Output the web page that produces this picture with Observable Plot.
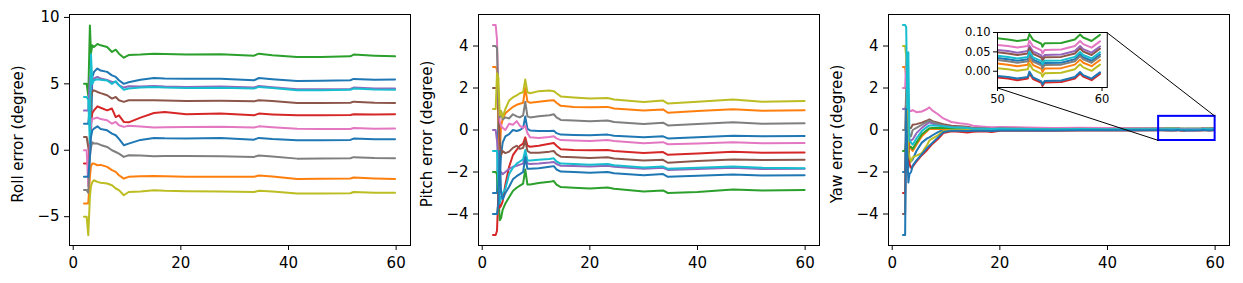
<!DOCTYPE html>
<html><head><meta charset="utf-8">
<script src="https://cdn.jsdelivr.net/npm/d3@7"></script>
<script src="https://cdn.jsdelivr.net/npm/@observablehq/plot@0.6"></script>
<style>
body{margin:0;background:#fff;}
#fig{position:relative;width:1243px;height:283px;overflow:hidden;font-family:"DejaVu Sans",sans-serif;}
#fig svg{position:absolute;top:0;}
</style></head><body><div id="fig"></div>
<script>
// ---------- DATA ----------
const xTicks = [0, 20, 40, 60];
const rollTicks = [-5, 0, 5, 10];
const angleTicks = [-4, -2, 0, 2, 4];
const insetXTicks = [50, 60];
const insetYTicks = [0, 0.05, 0.1];

// Roll
const xRoll = [2.0, 2.5, 2.8, 3.1, 3.3, 3.55, 3.85, 4.5, 5.1, 6.3, 7.2, 7.9, 8.5, 9.4, 10.3, 12.5, 15, 17, 21, 27.4, 33.6, 34.5, 37, 41.6, 46, 51.5, 52.1, 56, 59.8];
const rollBlueA = [2, 2, 2.0, 3.5, 1.0, 5.5, 5.9, 6.15, 6.0, 5.9, 5.64, 5.52, 5.27, 5.0, 5.12, 5.3, 5.44, 5.4, 5.39, 5.39, 5.27, 5.44, 5.35, 5.22, 5.24, 5.27, 5.37, 5.3, 5.32];
const rollOrange = [-4, -4, -4.0, -2.0, -1.2, -1.0, -1.0, -1.13, -1.1, -1.25, -1.5, -1.63, -1.88, -2.13, -2.0, -1.95, -1.93, -1.95, -2.0, -2.0, -2.0, -1.9, -1.98, -2.16, -2.15, -2.12, -2.05, -2.12, -2.16];
const rollGreen = [5, 5, 4.1, 9.4, 7.3, 7.9, 7.77, 8.0, 7.9, 7.77, 7.4, 7.57, 7.27, 6.97, 7.17, 7.2, 7.27, 7.25, 7.2, 7.22, 7.12, 7.27, 7.15, 7.02, 7.02, 7.07, 7.2, 7.12, 7.07];
const rollRed = [-1, -1, -1.0, 1.0, 2.0, 2.8, 3.0, 3.31, 3.2, 3.0, 3.14, 2.5, 2.63, 2.13, 2.1, 2.46, 2.81, 2.88, 2.71, 2.76, 2.63, 2.76, 2.7, 2.63, 2.63, 2.66, 2.71, 2.7, 2.71];
const rollPurple = [3, 3, 3.0, 5.5, 4.5, 5.3, 5.4, 5.52, 5.4, 5.3, 5.14, 5.14, 4.9, 4.72, 4.82, 4.8, 4.84, 4.8, 4.77, 4.8, 4.72, 4.84, 4.75, 4.59, 4.6, 4.62, 4.72, 4.65, 4.64];
const rollBrown = [1, 1, 0.2, -0.5, 4.0, 4.4, 4.51, 4.39, 4.3, 4.14, 3.89, 4.01, 3.76, 3.64, 3.76, 3.76, 3.76, 3.74, 3.71, 3.72, 3.68, 3.76, 3.7, 3.56, 3.56, 3.58, 3.66, 3.58, 3.56];
const rollPink = [0, 0, -2.7, 0.5, 2.0, 2.4, 2.38, 2.46, 2.35, 2.26, 2.0, 2.13, 1.88, 1.76, 1.85, 1.78, 1.72, 1.74, 1.76, 1.77, 1.71, 1.8, 1.74, 1.61, 1.6, 1.6, 1.68, 1.62, 1.63];
const rollGray = [-3, -3, -3.2, -0.5, 0.2, 0.6, 0.5, 0.5, 0.4, 0.25, 0.0, -0.13, -0.25, -0.5, -0.38, -0.4, -0.45, -0.44, -0.43, -0.45, -0.5, -0.4, -0.47, -0.63, -0.62, -0.6, -0.52, -0.58, -0.6];
const rollOlive = [-5, -5, -6.4, -3.5, -2.7, -2.4, -2.26, -2.38, -2.45, -2.5, -2.63, -2.88, -3.0, -3.39, -3.14, -3.1, -3.01, -3.05, -3.09, -3.1, -3.14, -3.05, -3.1, -3.26, -3.25, -3.24, -3.14, -3.2, -3.19];
const rollCyan = [4, 4, 3.8, 0.5, 7.2, 5.0, 5.27, 5.35, 5.3, 5.25, 5.0, 5.2, 4.9, 4.56, 4.65, 4.72, 4.77, 4.72, 4.69, 4.7, 4.64, 4.77, 4.68, 4.51, 4.52, 4.55, 4.64, 4.57, 4.56];
const rollBlueB = [-2, -2, -2.0, -0.5, 1.0, 1.5, 1.63, 1.8, 1.6, 1.5, 1.25, 1.13, 0.85, 0.38, 0.5, 0.78, 0.93, 0.9, 0.88, 0.93, 0.8, 0.93, 0.85, 0.75, 0.76, 0.78, 0.88, 0.82, 0.83];

// Pitch
const xPitch = [2.0, 2.5, 2.75, 3.0, 3.25, 3.5, 3.8, 4.3, 5.0, 5.7, 6.4, 7.0, 7.6, 8.0, 8.4, 8.9, 10.5, 12.5, 13.3, 13.8, 14.6, 17, 20, 23.3, 24.5, 30, 33.6, 34.5, 40, 46.6, 52, 59.9];
const pitchBlueA = [-3, -3, -3, 0.7, -2.2, -1.2, -0.6, -0.3, -0.2, 0.0, -0.05, 0.0, 0.1, 0.64, 0.05, -0.02, -0.05, -0.05, -0.03, -0.15, -0.22, -0.24, -0.25, -0.22, -0.27, -0.35, -0.3, -0.4, -0.34, -0.27, -0.3, -0.29];
const pitchOrange = [3, 3, 2.9, 0.5, -1.2, 0.2, 0.5, 0.8, 0.95, 1.1, 1.2, 1.25, 1.3, 2.0, 1.35, 1.3, 1.35, 1.4, 1.42, 1.3, 1.15, 1.1, 1.08, 1.1, 1.02, 0.93, 0.98, 0.82, 0.9, 0.99, 0.92, 0.94];
const pitchGreen = [-2, -2, -2.1, -3.0, -4.3, -4.2, -3.8, -3.5, -3.2, -2.9, -2.75, -2.65, -2.55, -1.88, -2.6, -2.6, -2.52, -2.47, -2.43, -2.6, -2.72, -2.75, -2.78, -2.74, -2.8, -2.93, -2.88, -3.0, -2.95, -2.83, -2.88, -2.86];
const pitchRed = [-5, -5, -4.8, -3.0, -3.7, -3.6, -3.4, -2.6, -1.75, -1.2, -0.95, -0.75, -0.65, -0.35, -0.75, -0.8, -0.75, -0.65, -0.62, -0.75, -0.92, -0.95, -0.97, -0.95, -1.0, -1.1, -1.05, -1.18, -1.12, -1.03, -1.08, -1.07];
const pitchPurple = [0, 0, -0.5, -1.5, -2.2, -2.0, -2.1, -2.0, -1.85, -1.75, -1.7, -1.65, -1.6, -1.15, -1.6, -1.62, -1.6, -1.55, -1.52, -1.62, -1.7, -1.72, -1.74, -1.7, -1.75, -1.85, -1.8, -1.9, -1.86, -1.8, -1.86, -1.85];
const pitchBrown = [2, 2, 2.0, 1.0, -0.5, -1.2, -1.0, -1.1, -1.03, -0.85, -0.75, -0.9, -0.85, -0.5, -1.0, -1.08, -1.08, -1.03, -1.0, -1.15, -1.27, -1.3, -1.33, -1.3, -1.36, -1.45, -1.42, -1.56, -1.48, -1.4, -1.43, -1.42];
const pitchPink = [5, 5, 4.3, 1.5, 0.4, 0.2, 0.1, 0.0, 0.3, 0.25, 0.42, 0.2, 0.1, 0.2, -0.15, -0.35, -0.38, -0.33, -0.3, -0.4, -0.48, -0.5, -0.52, -0.48, -0.52, -0.63, -0.58, -0.68, -0.64, -0.58, -0.63, -0.62];
const pitchGray = [4, 4, 3.9, 1.5, 0.6, 0.9, 0.5, 0.6, 0.55, 0.75, 0.65, 0.6, 0.7, 1.35, 0.65, 0.6, 0.65, 0.7, 0.75, 0.6, 0.48, 0.45, 0.42, 0.45, 0.38, 0.28, 0.35, 0.22, 0.28, 0.37, 0.3, 0.32];
const pitchOlive = [1, 1, 2.7, 2.5, 0.7, 0.9, 0.6, 1.0, 1.4, 1.55, 1.65, 1.75, 1.8, 2.4, 1.8, 1.75, 1.85, 1.88, 1.85, 1.75, 1.6, 1.55, 1.5, 1.52, 1.45, 1.33, 1.4, 1.26, 1.35, 1.45, 1.35, 1.38];
const pitchCyan = [-1, -1, -1.0, -2.5, -3.5, -3.2, -3.0, -2.8, -2.1, -1.8, -1.6, -1.5, -1.4, -0.95, -1.45, -1.45, -1.42, -1.38, -1.35, -1.5, -1.6, -1.62, -1.66, -1.62, -1.68, -1.78, -1.74, -1.85, -1.8, -1.74, -1.8, -1.82];
const pitchBlueB = [-4, -4, -4.0, -3.5, -1.0, -3.0, -3.3, -3.0, -2.7, -2.35, -2.2, -2.1, -2.0, -1.3, -1.85, -1.85, -1.82, -1.75, -1.72, -1.88, -1.98, -2.0, -2.03, -2.0, -2.06, -2.15, -2.1, -2.23, -2.18, -2.12, -2.17, -2.15];

// Yaw (start to 45 s)
const xYaw = [2.0, 2.4, 2.6, 2.8, 3.0, 3.2, 3.5, 3.8, 4.5, 5.5, 6.5, 6.9, 7.5, 8.5, 9.5, 11, 12.5, 14, 15, 17, 18.5, 20, 25, 30, 35, 40, 45];
const yawBlueA = [-2, -2, 1.2, -0.5, -1.8, -1.5, -1.5, -1.4, -1.0, -0.6, -0.4, -0.35, -0.25, -0.1, 0.0, 0.04, 0.05, 0.04, 0.02, 0.03, 0.02, 0.04, 0.03, 0.03, 0.04, 0.03, 0.03];
const yawOrange = [3, 3, 2.5, 1.5, 0.5, -0.8, -0.9, -1.0, -0.7, -0.3, -0.05, 0.05, 0.05, 0.05, 0.06, 0.05, 0.06, 0.05, 0.02, 0.03, 0.02, 0.04, 0.03, 0.02, 0.03, 0.02, 0.02];
const yawGreen = [-1, -1, -0.5, -1.2, -0.8, -0.8, -0.8, -0.9, -0.6, -0.2, 0.0, 0.08, 0.1, 0.1, 0.1, 0.1, 0.1, 0.09, 0.07, 0.08, 0.07, 0.08, 0.08, 0.07, 0.09, 0.08, 0.08];
const yawRed = [-3, -3, -0.8, -1.5, -0.3, -1.6, -1.8, -1.75, -1.5, -1.2, -0.95, -0.83, -0.65, -0.43, -0.15, -0.06, -0.08, -0.12, -0.08, -0.06, -0.1, -0.04, -0.03, -0.03, -0.02, -0.02, -0.02];
const yawPurple = [1, 1, 1.2, 0.5, -0.2, -0.5, -0.5, -0.45, -0.15, 0.1, 0.3, 0.37, 0.3, 0.25, 0.2, 0.15, 0.14, 0.12, 0.08, 0.08, 0.06, 0.08, 0.07, 0.05, 0.07, 0.06, 0.05];
const yawBrown = [-4, -4, 1.7, 0.5, 0.0, 0.1, 0.1, 0.25, 0.28, 0.35, 0.45, 0.5, 0.42, 0.35, 0.28, 0.2, 0.18, 0.15, 0.1, 0.1, 0.08, 0.1, 0.08, 0.06, 0.08, 0.06, 0.05];
const yawPink = [2, 2, 3.4, 2.5, 1.5, 0.9, 0.9, 0.95, 0.85, 0.88, 1.0, 1.08, 0.92, 0.75, 0.55, 0.38, 0.32, 0.28, 0.2, 0.16, 0.13, 0.14, 0.12, 0.1, 0.11, 0.09, 0.08];
const yawGray = [0, 0, 2.0, 1.0, -0.5, -0.2, -0.3, 0.0, 0.1, 0.25, 0.4, 0.45, 0.38, 0.3, 0.22, 0.16, 0.15, 0.12, 0.08, 0.08, 0.06, 0.08, 0.06, 0.04, 0.06, 0.04, 0.03];
const yawOlive = [4, 4, 3.5, 2.4, -1.0, -1.3, -1.5, -1.3, -1.22, -1.1, -0.7, -0.5, -0.4, -0.25, -0.05, 0.0, 0.02, 0.02, 0.0, 0.01, 0.0, 0.02, 0.01, 0.01, 0.02, 0.01, 0.01];
const yawCyan = [5, 5, 4.9, 1.0, 3.7, -0.5, -0.6, -0.7, -0.4, -0.05, 0.15, 0.22, 0.22, 0.2, 0.18, 0.13, 0.12, 0.1, 0.06, 0.06, 0.05, 0.06, 0.05, 0.04, 0.05, 0.04, 0.04];
const yawBlueB = [-5, -5, 1.0, -1.0, -2.5, -2.1, -2.0, -1.7, -1.45, -1.15, -0.85, -0.75, -0.6, -0.35, -0.1, -0.03, -0.03, -0.05, -0.04, -0.03, -0.05, -0.02, -0.02, -0.02, -0.01, -0.01, -0.01];

// Yaw tail (50 s to end, shown in the inset)
const xTail = [50, 51, 51.9, 52.9, 53.05, 53.4, 54.2, 54.3, 54.5, 56.1, 57.4, 57.9, 58.2, 59.0, 59.8];
const tailBlueA = [0.034, 0.031, 0.027, 0.031, 0.045, 0.030, 0.020, 0.012, 0.021, 0.022, 0.031, 0.044, 0.036, 0.027, 0.043];
const tailOrange = [0.020, 0.017, 0.013, 0.017, 0.031, 0.016, 0.006, -0.002, 0.007, 0.008, 0.017, 0.030, 0.022, 0.013, 0.029];
const tailGreen = [0.085, 0.082, 0.078, 0.082, 0.096, 0.081, 0.071, 0.063, 0.072, 0.073, 0.082, 0.095, 0.087, 0.078, 0.094];
const tailRed = [-0.016, -0.019, -0.023, -0.019, -0.005, -0.020, -0.030, -0.038, -0.029, -0.028, -0.019, -0.006, -0.014, -0.023, -0.007];
const tailPurple = [0.055, 0.052, 0.048, 0.052, 0.066, 0.051, 0.041, 0.033, 0.042, 0.043, 0.052, 0.065, 0.057, 0.048, 0.064];
const tailBrown = [0.049, 0.046, 0.042, 0.046, 0.060, 0.045, 0.035, 0.027, 0.036, 0.037, 0.046, 0.059, 0.051, 0.042, 0.058];
const tailPink = [0.068, 0.065, 0.061, 0.065, 0.079, 0.064, 0.054, 0.046, 0.055, 0.056, 0.065, 0.078, 0.070, 0.061, 0.077];
const tailGray = [0.029, 0.026, 0.022, 0.026, 0.040, 0.025, 0.015, 0.007, 0.016, 0.017, 0.026, 0.039, 0.031, 0.022, 0.038];
const tailOlive = [0.008, 0.005, 0.001, 0.005, 0.019, 0.004, -0.006, -0.014, -0.005, -0.004, 0.005, 0.018, 0.010, 0.001, 0.017];
const tailCyan = [0.040, 0.037, 0.033, 0.037, 0.051, 0.036, 0.026, 0.018, 0.027, 0.028, 0.037, 0.050, 0.042, 0.033, 0.049];
const tailBlueB = [-0.012, -0.015, -0.019, -0.015, -0.001, -0.016, -0.026, -0.034, -0.025, -0.024, -0.015, -0.002, -0.010, -0.019, -0.003];

// zoomed region marked on the yaw plot
const zoomBox = {x1: 49.5, x2: 60, y1: -0.5, y2: 0.65};

// ---------- LAYOUT / STYLE ----------
const tab10 = ["#1f77b4","#ff7f0e","#2ca02c","#d62728","#9467bd","#8c564b","#e377c2","#7f7f7f","#bcbd22","#17becf"];
const xDomain = [-0.69, 62.67];
const insetBox = {x1: 19.6, x2: 40.0, y1: 2.0, y2: 4.62}; // inset placement in yaw data coords
const FONT = "'DejaVu Sans', sans-serif";

const rollLines = [rollBlueA, rollOrange, rollGreen, rollRed, rollPurple, rollBrown, rollPink, rollGray, rollOlive, rollCyan, rollBlueB];
const pitchLines = [pitchBlueA, pitchOrange, pitchGreen, pitchRed, pitchPurple, pitchBrown, pitchPink, pitchGray, pitchOlive, pitchCyan, pitchBlueB];
const yawMain = [yawBlueA, yawOrange, yawGreen, yawRed, yawPurple, yawBrown, yawPink, yawGray, yawOlive, yawCyan, yawBlueB];
const yawTail = [tailBlueA, tailOrange, tailGreen, tailRed, tailPurple, tailBrown, tailPink, tailGray, tailOlive, tailCyan, tailBlueB];
const xYawAll = xYaw.concat(xTail);
const yawLines = yawMain.map((a, k) => a.concat(yawTail[k]));

function lineMarks(xs, lines, opts = {}) {
  return lines.map((ys, k) => Plot.line(ys.map((y, i) => ({x: xs[i], y})),
    {x: "x", y: "y", stroke: tab10[k % 10], strokeWidth: 2, ...opts}));
}

function panel({xs, lines, yDomain, yTicks, label, extra = []}) {
  return Plot.plot({
    width: 415, height: 283,
    marginLeft: 69, marginRight: 5, marginTop: 14, marginBottom: 38,
    x: {domain: xDomain}, y: {domain: yDomain},
    style: {fontSize: "15px", fontFamily: FONT, background: "none", color: "black", overflow: "visible"},
    marks: [
      Plot.axisX({ticks: xTicks, tickSize: 5, tickPadding: 7, label: null, tickFormat: d => String(d)}),
      Plot.axisY({ticks: yTicks, tickSize: 5, tickPadding: 5, label: null}),
      ...lineMarks(xs, lines),
      ...extra,
      Plot.frame({stroke: "black", strokeWidth: 1}),
      Plot.text([label], {frameAnchor: "left", textAnchor: "middle", rotate: -90, dx: -51, dy: 4, fontSize: 15, fill: "black"})
    ]
  });
}

const fig = document.getElementById("fig");

const roll = panel({xs: xRoll, lines: rollLines, yDomain: [-7.17, 10.22], yTicks: rollTicks, label: "Roll error (degree)"});
roll.style.left = "0px";
fig.appendChild(roll);

const pitch = panel({xs: xPitch, lines: pitchLines, yDomain: [-5.5, 5.5], yTicks: angleTicks, label: "Pitch error (degree)"});
pitch.style.left = "409.3px";
fig.appendChild(pitch);

const connectors = [
  {x1: insetBox.x2, y1: insetBox.y2, x2: zoomBox.x2, y2: zoomBox.y2},
  {x1: insetBox.x1, y1: insetBox.y1, x2: zoomBox.x1, y2: zoomBox.y1}
];
const yaw = panel({xs: xYawAll, lines: yawLines, yDomain: [-5.5, 5.5], yTicks: angleTicks, label: "Yaw error (degree)",
  extra: [
    Plot.rect([zoomBox], {x1: "x1", x2: "x2", y1: "y1", y2: "y2", stroke: "blue", fill: "none", strokeWidth: 2}),
    Plot.link(connectors, {x1: "x1", y1: "y1", x2: "x2", y2: "y2", stroke: "black", strokeWidth: 1})
  ]});
yaw.style.left = "819.3px";
fig.appendChild(yaw);

// inset
const sx = yaw.scale("x"), sy = yaw.scale("y");
const fL = 819.3 + sx.apply(insetBox.x1), fR = 819.3 + sx.apply(insetBox.x2);
const fT = sy.apply(insetBox.y2), fB = sy.apply(insetBox.y1);
const mL = 44, mR = 6, mT = 6, mB = 20;
const inset = Plot.plot({
  width: fR - fL + mL + mR, height: fB - fT + mT + mB,
  marginLeft: mL, marginRight: mR, marginTop: mT, marginBottom: mB,
  x: {domain: [50, 60.5]}, y: {domain: [-0.042, 0.1]},
  style: {fontSize: "11.5px", fontFamily: FONT, background: "none", color: "black", overflow: "visible"},
  marks: [
    Plot.frame({fill: "white", stroke: "none"}),
    Plot.axisX({ticks: insetXTicks, tickSize: 4, tickPadding: 3, label: null, tickFormat: d => String(d)}),
    Plot.axisY({ticks: insetYTicks, tickSize: 4, tickPadding: 3, label: null, tickFormat: d3.format(".2f")}),
    ...lineMarks(xYawAll, yawLines, {clip: true}),
    Plot.frame({stroke: "black", strokeWidth: 1})
  ]
});
inset.style.left = (fL - mL) + "px";
inset.style.top = (fT - mT) + "px";
fig.appendChild(inset);
</script>
</body></html>
